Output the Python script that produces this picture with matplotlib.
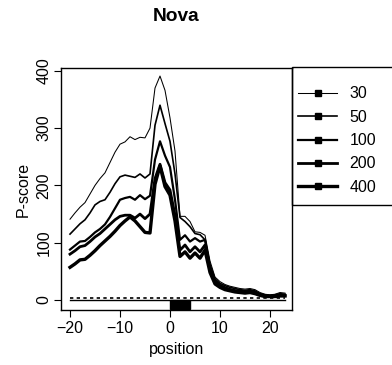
import numpy as np
import matplotlib
matplotlib.use('Agg')
import matplotlib.pyplot as plt
from matplotlib.lines import Line2D
from matplotlib.patches import Rectangle

matplotlib.rc('font', family=['Liberation Sans', 'DejaVu Sans'], size=11.5)

position = np.arange(-20, 24)
window = ['30', '50', '100', '200', '400']
score_30 = [141, 152, 162, 170, 185, 200, 212, 222, 240, 258, 272, 276, 285, 280,
            284, 283, 300, 370, 391, 366, 318, 260, 146, 146, 137, 119, 118, 113,
            68, 40, 32, 27, 24, 22, 20, 19, 20, 18, 13, 10, 9, 10, 13, 12]
score_50 = [115, 124, 133, 140, 152, 166, 172, 175, 188, 203, 215, 218, 216, 214,
            220, 213, 220, 305, 340, 308, 277, 220, 144, 137, 128, 116, 114, 105,
            62, 37, 29, 25, 22, 20, 18, 17, 18, 16, 11, 9, 8, 9, 11, 10]
score_100 = [88, 95, 102, 103, 110, 118, 124, 132, 145, 160, 175, 178, 180, 175,
             183, 176, 182, 245, 277, 252, 232, 175, 105, 113, 102, 108, 102, 105,
             57, 34, 26, 22, 19, 17, 16, 15, 16, 14, 10, 8, 7, 8, 9, 9]
score_200 = [80, 86, 93, 95, 102, 110, 116, 124, 132, 140, 146, 148, 148, 143,
             150, 142, 150, 212, 237, 205, 192, 148, 87, 96, 84, 93, 84, 96,
             52, 31, 24, 20, 17, 15, 14, 13, 14, 12, 9, 7, 6, 7, 8, 8]
score_400 = [57, 63, 70, 71, 78, 86, 95, 103, 111, 120, 130, 138, 145, 138,
             128, 118, 117, 202, 234, 198, 183, 138, 76, 84, 73, 82, 73, 87,
             48, 28, 22, 18, 16, 14, 13, 12, 13, 11, 8, 6, 6, 6, 7, 7]
scores = [score_30, score_50, score_100, score_200, score_400]
widths = [0.75, 1.2, 1.6, 2.0, 2.4]

threshold = 4
motif_start, motif_end = 0, 4

fig = plt.figure(figsize=(3.92, 3.65), dpi=100)
ax = fig.add_axes([61/392, 55/365, 231/392, 242/365])

for s, w in zip(scores, widths):
    ax.plot(position, s, color='black', lw=w, solid_joinstyle='round')

ax.plot([position[0], position[-1]], [0, 0], color='black', lw=1)
ax.plot([position[0], position[-1]], [threshold, threshold], color='black',
        lw=1.2, linestyle=(0, (2, 2)))
ax.add_patch(Rectangle((motif_start, -15), motif_end - motif_start, 15,
                       facecolor='black', edgecolor='black'))

ax.set_xlim(-21.8, 24.4)
ax.set_ylim(-17.5, 405)
ax.set_xticks([-20, -10, 0, 10, 20])
ax.set_yticks([0, 100, 200, 300, 400])
ax.tick_params(direction='out', length=5, width=0.8, pad=3)
ax.tick_params(axis='y', pad=2)
plt.setp(ax.get_yticklabels(), rotation=90, va='center')
for sp in ax.spines.values():
    sp.set_linewidth(1)
ax.set_xlabel('position', labelpad=4)
ax.set_ylabel('P-score', labelpad=4)
ax.set_title('Nova', fontweight='bold', pad=34)

handles = [Line2D([], [], color='black', lw=w, marker='s', markersize=5)
           for w in widths]
leg = ax.legend(handles, window, loc='upper left', bbox_to_anchor=(1.0, 0.95),
                frameon=False, handlelength=2.4, labelspacing=0.52,
                handletextpad=0.8, borderaxespad=0)
fig.add_artist(Rectangle((292/392, 160/365), 0.3, 138/365, transform=fig.transFigure,
                         facecolor='none', edgecolor='black', lw=1, clip_on=False))

plt.savefig('out.png', dpi=100)
